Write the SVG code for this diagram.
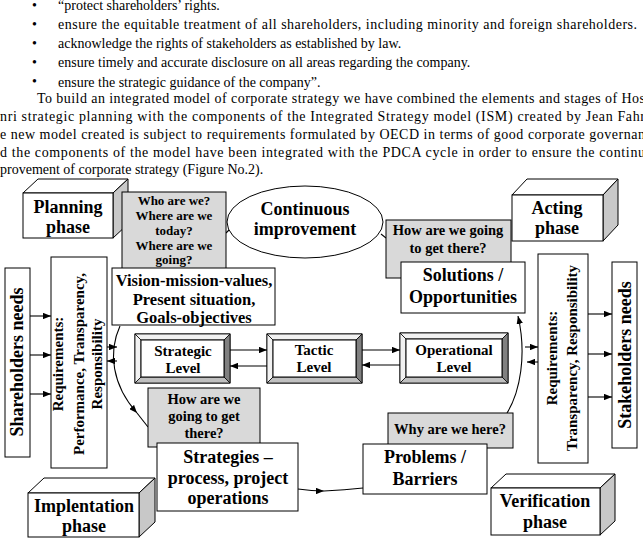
<svg xmlns="http://www.w3.org/2000/svg" width="643" height="542" viewBox="0 0 643 542">
<style>
.body{font-family:"Liberation Serif","Times New Roman",serif;font-size:14px;fill:#000}
.b{font-family:"Liberation Serif","Times New Roman",serif;font-weight:bold;fill:#000;text-anchor:middle}
.box{fill:#fff;stroke:#000;stroke-width:1}
.gray{fill:#d9d9d9;stroke:#000;stroke-width:1}
.side{fill:#c8c8c8;stroke:#000;stroke-width:1}
.conn{fill:none;stroke:#000;stroke-width:1.1}
.bl{fill:#f2f2f2;stroke:#000;stroke-width:0.8}
.bd{fill:#808080;stroke:#000;stroke-width:0.8}
.bm{fill:#c0c0c0;stroke:#000;stroke-width:0.8}
</style>
<defs>
<marker id="ah" viewBox="0 0 10 8" refX="10" refY="4" markerWidth="8" markerHeight="6.5" markerUnits="userSpaceOnUse" orient="auto">
<path d="M0,0 L10,4 L0,8 Z" fill="#000"/>
</marker>
</defs>
<rect width="643" height="542" fill="#fff"/>
<g id="intro-text">
<text class="body" x="32" y="10">•</text>
<text class="body" x="58" y="10">“protect shareholders’ rights.</text>
<text class="body" x="32" y="29">•</text>
<text class="body" x="58" y="29" textLength="579">ensure the equitable treatment of all shareholders, including minority and foreign shareholders.</text>
<text class="body" x="32" y="48">•</text>
<text class="body" x="58" y="48">acknowledge the rights of stakeholders as established by law.</text>
<text class="body" x="32" y="67">•</text>
<text class="body" x="58" y="67">ensure timely and accurate disclosure on all areas regarding the company.</text>
<text class="body" x="32" y="86">•</text>
<text class="body" x="58" y="87">ensure the strategic guidance of the company”.</text>
<text class="body" x="37" y="103" textLength="608">To build an integrated model of corporate strategy we have combined the elements and stages of Hos</text>
<text class="body" x="0" y="121" textLength="645">nri strategic planning with the components of the Integrated Strategy model (ISM) created by Jean Fahr</text>
<text class="body" x="0" y="139" textLength="645">e new model created is subject to requirements formulated by OECD in terms of good corporate governan</text>
<text class="body" x="0" y="157" textLength="645">d the components of the model have been integrated with the PDCA cycle in order to ensure the continu</text>
<text class="body" x="0" y="174">provement of corporate strategy (Figure No.2).</text>
</g>

<g id="connectors">
<line class="conn" x1="30" y1="316" x2="51" y2="316" marker-end="url(#ah)"/>
<line class="conn" x1="30" y1="355" x2="51" y2="355" marker-end="url(#ah)"/>
<line class="conn" x1="30" y1="394" x2="51" y2="394" marker-end="url(#ah)"/>
<line class="conn" x1="588" y1="314" x2="612" y2="314" marker-end="url(#ah)"/>
<line class="conn" x1="588" y1="354" x2="612" y2="354" marker-end="url(#ah)"/>
<line class="conn" x1="588" y1="397" x2="612" y2="397" marker-end="url(#ah)"/>
<line class="conn" x1="107" y1="347" x2="117" y2="347" marker-end="url(#ah)"/>
<line class="conn" x1="117" y1="361" x2="107" y2="361" marker-end="url(#ah)"/>
<line class="conn" x1="525" y1="347" x2="538" y2="347" marker-end="url(#ah)"/>
<line class="conn" x1="538" y1="362" x2="527" y2="362" marker-end="url(#ah)"/>
<line class="conn" x1="230" y1="350" x2="267" y2="350" marker-end="url(#ah)"/>
<line class="conn" x1="267" y1="366" x2="230" y2="366" marker-end="url(#ah)"/>
<line class="conn" x1="362" y1="350" x2="400" y2="350" marker-end="url(#ah)"/>
<line class="conn" x1="400" y1="365" x2="362" y2="365" marker-end="url(#ah)"/>
<path class="conn" d="M120,326 C108,352 112,385 137,413" marker-end="url(#ah)"/>
<path class="conn" d="M137,413 L148,427"/>
<path class="conn" d="M298,489 Q312,491 324,491" marker-end="url(#ah)"/>
<path class="conn" d="M324,491 Q345,490 363,488"/>
<path class="conn" d="M507,413 C520,392 527,355 518,316" marker-end="url(#ah)"/>
<path class="conn" d="M226,233 L230,229"/>
<path class="conn" d="M381,234 L386,238"/>
</g>

<g id="planning-phase">
<polygon class="box" points="23,193 38,179 128,179 113,193"/>
<polygon class="side" points="113,193 128,179 128,224 113,238"/>
<rect class="box" x="23" y="193" width="90" height="45"/>
<text class="b" x="68" y="213" font-size="18">Planning</text>
<text class="b" x="68" y="233" font-size="18">phase</text>
</g>

<g id="who-are-we">
<rect class="gray" x="122" y="192" width="104" height="80"/>
<text class="b" x="174" y="205" font-size="13">Who are we?</text>
<text class="b" x="174" y="220" font-size="13">Where are we</text>
<text class="b" x="174" y="235" font-size="13">today?</text>
<text class="b" x="174" y="250" font-size="13">Where are we</text>
<text class="b" x="174" y="264" font-size="13">going?</text>
</g>

<g id="continuous-improvement">
<ellipse class="box" cx="305" cy="222" rx="78" ry="36"/>
<text class="b" x="305" y="215" font-size="18">Continuous</text>
<text class="b" x="305" y="235" font-size="18">improvement</text>
</g>

<g id="how-top">
<rect class="gray" x="386" y="220" width="125" height="58"/>
<text class="b" x="448" y="235" font-size="14.5">How are we going</text>
<text class="b" x="448" y="253" font-size="14.5">to get there?</text>
</g>

<g id="acting-phase">
<polygon class="box" points="512,195 527,179 618,179 603,195"/>
<polygon class="side" points="603,195 618,179 618,225 603,241"/>
<rect class="box" x="512" y="195" width="91" height="46"/>
<text class="b" x="557" y="214" font-size="18">Acting</text>
<text class="b" x="557" y="234" font-size="18">phase</text>
</g>

<g id="vision">
<rect class="box" x="112" y="268" width="163" height="57"/>
<text class="b" x="194" y="286" font-size="16.5">Vision-mission-values,</text>
<text class="b" x="194" y="305" font-size="16.5">Present situation,</text>
<text class="b" x="194" y="323" font-size="16.5">Goals-objectives</text>
</g>

<g id="solutions">
<rect class="box" x="401" y="262" width="124" height="51"/>
<text class="b" x="463" y="281" font-size="18">Solutions /</text>
<text class="b" x="463" y="303" font-size="18">Opportunities</text>
</g>

<g id="shareholders-needs">
<rect class="box" x="5" y="268" width="25" height="189"/>
<text class="b" transform="translate(23,362) rotate(-90)" font-size="18">Shareholders needs</text>
</g>

<g id="requirements-left">
<rect class="box" x="51" y="257" width="56" height="211"/>
<text class="b" transform="translate(63,364) rotate(-90)" font-size="15">Requirements:</text>
<text class="b" transform="translate(84,364) rotate(-90)" font-size="15">Performance, Transparency,</text>
<text class="b" transform="translate(102,364) rotate(-90)" font-size="15">Responsibility</text>
</g>

<g id="requirements-right">
<rect class="box" x="538" y="254" width="50" height="209"/>
<text class="b" transform="translate(557,358) rotate(-90)" font-size="15">Requirements:</text>
<text class="b" transform="translate(577,358) rotate(-90)" font-size="15">Transparency, Responsibility</text>
</g>

<g id="stakeholders-needs">
<rect class="box" x="612" y="262" width="25" height="186"/>
<text class="b" transform="translate(631,355) rotate(-90)" font-size="18">Stakeholders needs</text>
</g>

<g id="strategic-level">
<rect class="box" x="135" y="334" width="95" height="49"/>
<polygon class="bl" points="135,334 230,334 224,340 141,340"/>
<polygon class="bl" points="135,334 141,340 141,377 135,383"/>
<polygon class="bd" points="230,334 230,383 224,377 224,340"/>
<polygon class="bm" points="135,383 141,377 224,377 230,383"/>
<rect class="box" x="141" y="340" width="83" height="37"/>
<text class="b" x="183" y="356" font-size="15">Strategic</text>
<text class="b" x="183" y="373" font-size="15">Level</text>
</g>

<g id="tactic-level">
<rect class="box" x="267" y="334" width="95" height="49"/>
<polygon class="bl" points="267,334 362,334 356,340 273,340"/>
<polygon class="bl" points="267,334 273,340 273,377 267,383"/>
<polygon class="bd" points="362,334 362,383 356,377 356,340"/>
<polygon class="bm" points="267,383 273,377 356,377 362,383"/>
<rect class="box" x="273" y="340" width="83" height="37"/>
<text class="b" x="314" y="355" font-size="15">Tactic</text>
<text class="b" x="314" y="372" font-size="15">Level</text>
</g>

<g id="operational-level">
<rect class="box" x="400" y="333" width="108" height="50"/>
<polygon class="bl" points="400,333 508,333 502,339 406,339"/>
<polygon class="bl" points="400,333 406,339 406,377 400,383"/>
<polygon class="bd" points="508,333 508,383 502,377 502,339"/>
<polygon class="bm" points="400,383 406,377 502,377 508,383"/>
<rect class="box" x="406" y="339" width="96" height="38"/>
<text class="b" x="454" y="355" font-size="15">Operational</text>
<text class="b" x="454" y="372" font-size="15">Level</text>
</g>

<g id="how-bottom">
<rect class="gray" x="148" y="388" width="112" height="59"/>
<text class="b" x="204" y="404" font-size="14.5">How are we</text>
<text class="b" x="204" y="421" font-size="14.5">going to get</text>
<text class="b" x="204" y="438" font-size="14.5">there?</text>
</g>

<g id="why-here">
<rect class="gray" x="388" y="413" width="125" height="35"/>
<text class="b" x="450" y="434" font-size="14.5">Why are we here?</text>
</g>

<g id="strategies">
<rect class="box" x="157" y="443" width="141" height="68"/>
<text class="b" x="228" y="463" font-size="18">Strategies –</text>
<text class="b" x="228" y="484" font-size="18">process, project</text>
<text class="b" x="228" y="504" font-size="18">operations</text>
</g>

<g id="problems">
<rect class="box" x="363" y="444" width="124" height="50"/>
<text class="b" x="425" y="463" font-size="18">Problems /</text>
<text class="b" x="425" y="485" font-size="18">Barriers</text>
</g>

<g id="implementation-phase">
<polygon class="box" points="28,493 44,478 155,478 139,493"/>
<polygon class="side" points="139,493 155,478 155,522 139,537"/>
<rect class="box" x="28" y="493" width="111" height="44"/>
<text class="b" x="84" y="512" font-size="18">Implentation</text>
<text class="b" x="84" y="532" font-size="18">phase</text>
</g>

<g id="verification-phase">
<polygon class="box" points="491,488 506,474 615,474 600,488"/>
<polygon class="side" points="600,488 615,474 615,521 600,535"/>
<rect class="box" x="491" y="488" width="109" height="47"/>
<text class="b" x="545" y="507" font-size="18">Verification</text>
<text class="b" x="545" y="528" font-size="18">phase</text>
</g>
</svg>
